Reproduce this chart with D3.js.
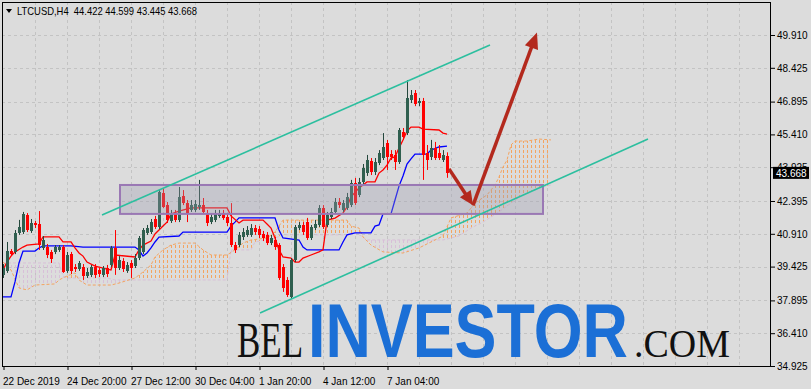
<!DOCTYPE html>
<html><head><meta charset="utf-8">
<script src="https://cdn.jsdelivr.net/npm/d3@7"></script>
<style>body{margin:0;background:#dcdcdc}svg{display:block}text{white-space:pre}</style>
</head><body><svg id="c" width="811" height="389"></svg>
<script>
// ---- data ----
const candles = [ // [open, high, low, close], H4 bars from 22 Dec 2019
[39.05,39.54,38.91,39.36],[39.23,40.54,39.14,40.13],[40.13,40.22,39.90,39.99],[40.09,41.08,39.99,40.95],
[40.95,41.54,40.86,41.22],[40.99,41.90,40.90,41.81],[41.76,41.85,40.99,41.08],[41.04,41.58,40.95,41.40],
[41.40,41.49,41.17,41.31],[41.35,41.94,40.18,40.40],[40.27,40.81,40.18,40.63],[40.31,40.45,39.81,39.95],
[40.09,40.18,39.59,39.77],[40.09,40.40,39.99,40.31],[40.18,40.40,40.09,40.31],[40.31,40.40,39.14,39.18],
[39.23,40.09,39.14,39.95],[39.99,40.09,39.09,39.23],[39.41,39.54,39.18,39.32],[39.32,39.68,39.23,39.59],
[39.41,39.54,38.82,39.00],[39.00,39.36,38.91,39.18],[39.05,39.50,38.95,39.41],[39.41,39.54,38.91,39.05],
[39.27,39.36,38.95,39.09],[39.05,39.45,38.95,39.36],[39.36,39.50,38.95,39.09],[39.50,40.36,39.41,40.27],
[40.27,41.08,39.05,39.36],[39.36,39.90,39.27,39.72],[39.68,39.81,39.18,39.32],[39.23,39.63,39.14,39.50],
[39.59,39.72,38.91,39.36],[39.45,39.99,39.36,39.81],[39.81,40.81,39.72,40.72],[40.09,41.17,39.99,41.08],
[40.95,41.31,40.86,41.17],[40.99,41.58,40.90,41.44],[41.58,41.72,41.13,41.22],[41.22,42.89,41.13,42.80],
[42.76,42.98,42.08,42.12],[42.21,42.35,41.40,41.54],[41.49,41.99,41.40,41.85],[41.85,41.99,41.44,41.54],
[41.54,43.03,41.44,42.57],[42.62,42.89,42.21,42.30],[42.30,42.44,41.44,41.85],[41.99,42.44,41.90,42.21],
[41.99,42.44,41.90,42.26],[42.12,43.35,41.99,42.21],[42.21,42.53,41.81,41.90],[41.85,41.99,41.26,41.40],
[41.44,41.81,41.35,41.67],[41.54,41.99,41.44,41.85],[41.72,41.99,41.63,41.85],[41.85,41.99,41.54,41.63],
[41.67,41.81,41.26,41.40],[41.40,42.30,40.31,40.40],[40.40,40.54,40.04,40.18],[40.40,40.99,40.31,40.86],
[40.77,41.17,40.63,40.99],[40.86,41.26,40.77,41.08],[40.86,41.35,40.77,41.17],[41.17,41.31,40.86,40.99],
[41.13,41.26,40.72,40.86],[40.90,41.04,40.58,40.72],[40.86,40.99,40.40,40.49],[40.49,40.86,40.40,40.72],
[40.63,40.77,40.18,40.31],[40.40,40.49,38.82,38.91],[39.41,39.54,38.28,38.46],[38.82,38.95,38.05,38.14],
[38.05,39.81,37.96,39.72],[39.72,41.31,39.63,41.22],[41.17,41.44,41.08,41.31],[41.31,41.44,40.86,40.99],
[41.44,41.63,40.63,40.72],[40.72,41.31,40.63,41.22],[41.17,41.54,41.08,41.35],[41.31,42.21,41.22,42.08],
[42.08,42.21,41.13,41.22],[41.31,41.90,41.22,41.76],[41.67,42.08,41.58,41.90],[41.90,42.53,41.81,42.35],
[42.35,42.53,42.08,42.21],[41.99,42.44,41.90,42.30],[42.08,42.76,41.99,42.57],[42.21,43.35,42.12,43.21],
[43.21,43.44,42.21,42.30],[42.67,43.44,42.57,43.25],[43.25,44.07,43.12,43.89],[43.66,44.48,43.53,44.25],
[44.20,44.34,43.57,43.71],[43.71,44.34,43.57,44.16],[44.12,44.70,44.02,44.57],[44.34,45.47,44.25,44.84],
[45.02,45.16,43.80,44.39],[44.52,44.70,44.25,44.39],[44.48,44.70,43.80,44.16],[44.16,45.70,44.07,45.61],
[45.52,45.70,45.16,45.29],[45.47,47.87,45.38,47.06],[46.97,47.42,46.83,47.19],[47.28,47.42,46.69,46.79],
[46.83,47.06,46.69,46.92],[46.92,47.06,43.35,44.48],[44.57,44.93,43.80,44.25],[44.39,45.16,44.25,44.79],
[44.79,45.07,44.25,44.34],[44.57,44.93,44.25,44.34],[44.25,44.70,44.16,44.48],[44.422,44.599,43.445,43.668]
];
// Ichimoku lines: [bar, price]
const tenkan = [[0,39.27],[1,39.63],[2,39.90],[3,40.09],[5,40.31],[6,40.40],[9,40.45],[10,40.77],[14,40.77],[15,40.54],[17,40.54],[18,40.27],[19,40.04],[20,39.90],[21,39.63],[23,39.45],[27,39.27],[28,39.95],[33,39.86],[34,40.18],[35,40.40],[37,40.58],[38,40.90],[40,41.26],[41,41.44],[42,41.81],[44,41.94],[47,42.08],[56,42.08],[57,41.72],[59,41.40],[60,41.53],[65,41.53],[66,41.35],[67,41.17],[68,40.72],[69,40.18],[70,39.86],[72,39.81],[73,39.63],[74,39.63],[75,39.81],[77,39.95],[79,40.09],[80,40.18],[81,41.53],[83,41.62],[85,41.85],[86,42.12],[87,42.58],[89,42.98],[91,43.26],[93,43.26],[94,43.66],[95,43.80],[96,44.02],[97,44.34],[98,44.39],[99,44.79],[100,45.16],[101,45.56],[102,45.74],[104,45.74],[105,45.65],[109,45.61],[110,45.47],[111,45.42]];
const kijun = [[0,38.05],[2,38.05],[3,38.73],[4,39.59],[5,40.13],[8,40.13],[9,40.27],[10,40.36],[17,40.36],[20,40.31],[33,40.31],[34,40.18],[35,39.90],[36,40.04],[37,40.27],[38,40.54],[39,40.76],[44,40.81],[45,40.99],[56,40.99],[57,41.26],[58,41.44],[59,41.63],[68,41.63],[69,41.08],[70,40.72],[74,40.63],[75,40.31],[76,40.18],[84,40.18],[85,40.54],[86,40.86],[88,40.95],[92,40.95],[93,41.26],[94,41.31],[95,41.81],[97,41.81],[98,42.44],[99,43.07],[100,43.53],[101,44.07],[102,44.30],[103,44.52],[106,44.52],[107,44.70],[109,44.84],[111,44.88]];
const spanA = [[0,39.63],[2,39.27],[4,38.46],[6,38.37],[8,38.59],[13,38.64],[14,38.82],[16,39.00],[18,39.14],[19,38.82],[21,38.59],[27,38.59],[29,38.68],[33,38.91],[35,39.18],[37,39.50],[38,39.86],[40,40.18],[42,40.40],[44,40.49],[48,40.49],[50,40.18],[52,39.95],[56,39.95],[58,40.18],[60,40.49],[62,40.63],[66,40.72],[68,40.99],[69,41.26],[70,41.53],[86,41.53],[87,41.26],[89,41.17],[90,40.77],[92,40.40],[95,40.09],[100,40.04],[104,40.27],[107,40.54],[110,40.81],[112,41.63],[116,41.85],[118,42.30],[121,42.67],[123,43.12],[124,43.48],[125,43.93],[126,44.25],[127,44.93],[128,45.11],[131,45.11],[134,45.20],[137,45.16]];
const spanB = [[0,39.59],[14,39.59],[15,39.00],[16,38.91],[26,38.91],[28,38.82],[56,38.82],[57,40.18],[62,40.18],[63,40.54],[68,40.72],[70,40.86],[87,40.86],[88,40.99],[91,40.63],[110,40.63],[114,40.81],[117,41.17],[120,41.44],[124,41.90],[127,42.30],[130,42.67],[134,42.98],[137,43.12]];
// price axis and time axis
const yTicks = [49.910,48.425,46.895,45.410,43.925,42.395,40.910,39.425,37.895,36.410,34.925];
const xTickBars = [0,16,32,48,64,80,96];
const xTickLabels = ['22 Dec 2019','24 Dec 20:00','27 Dec 12:00','30 Dec 04:00','1 Jan 20:00','4 Jan 12:00','7 Jan 04:00'];
const title = 'LTCUSD,H4  44.422 44.599 43.445 43.668';
const lastPrice = 43.668;
// drawn objects: [bar, price]
const upperChannel = [[24.75,41.76],[121.75,49.46]];
const lowerChannel = [[64.25,37.32],[161.25,45.20]];
const zoneBars = [29.25,135];
const zonePrices = [41.81,43.12];
const arrowDown = [[111.5,43.85],[117.5,42.20]];
const arrowUp = [[117.5,42.20],[133.5,50.02]];

// ---- drawing ----
const svg = d3.select('#c');
const PL=2, PT=2, PR=771, PB=366;
const x = d3.scaleLinear().domain([0,192]).range([3,771]);
const y = d3.scaleLinear().domain([34.925,49.910]).range([366,35]);
const defs = svg.append('defs');
defs.append('clipPath').attr('id','plot').append('rect').attr('x',PL).attr('y',PT).attr('width',PR-PL).attr('height',PB-PT);

svg.append('rect').attr('width',811).attr('height',389).attr('fill','#dcdcdc');
const g = svg.append('g').attr('clip-path','url(#plot)');

// grid
const gridC = '#c3c3c3';
g.selectAll('.hg').data(yTicks).join('line').attr('x1',PL).attr('x2',PR)
  .attr('y1',d=>Math.round(y(d))+0.5).attr('y2',d=>Math.round(y(d))+0.5)
  .attr('stroke',gridC).attr('stroke-dasharray','3,3');
g.selectAll('.vg').data(d3.range(8,192,8)).join('line')
  .attr('x1',d=>x(d)+0.5).attr('x2',d=>x(d)+0.5).attr('y1',PT).attr('y2',PB)
  .attr('stroke',gridC).attr('stroke-dasharray','3,3');

// cloud hatch patterns
function pat(id,col){
  defs.append('pattern').attr('id',id).attr('patternUnits','userSpaceOnUse').attr('width',4).attr('height',5)
    .append('line').attr('x1',3.5).attr('x2',3.5).attr('y1',0).attr('y2',3).attr('stroke',col).attr('stroke-width',1);
}
pat('hA','#f4a460'); pat('hB','#d8bfd8');
const pts = a=>a.map(d=>[x(d[0]),y(d[1])]);
const pA = pts(spanA), pB = pts(spanB);
const poly = 'M'+pA.map(p=>p.join(',')).join('L')+'L'+pB.slice().reverse().map(p=>p.join(',')).join('L')+'Z';
const bTop = 'M'+pB.map(p=>p.join(',')).join('L')+`L${pB[pB.length-1][0]},0L${pB[0][0]},0Z`;
const bBot = 'M'+pB.map(p=>p.join(',')).join('L')+`L${pB[pB.length-1][0]},400L${pB[0][0]},400Z`;
defs.append('clipPath').attr('id','abv').append('path').attr('d',bTop);
defs.append('clipPath').attr('id','blw').append('path').attr('d',bBot);
g.append('g').attr('clip-path','url(#abv)').append('path').attr('d',poly).attr('fill','url(#hA)');
g.append('g').attr('clip-path','url(#blw)').append('path').attr('d',poly).attr('fill','url(#hB)');
const line = d3.line().x(d=>x(d[0])).y(d=>y(d[1]));
g.append('path').attr('d',line(spanB)).attr('fill','none').attr('stroke','#d8bfd8').attr('stroke-dasharray','3,2');
g.append('path').attr('d',line(spanA)).attr('fill','none').attr('stroke','#f4a460').attr('stroke-dasharray','3,2');

// kijun / tenkan
g.append('path').attr('d',line(kijun)).attr('fill','none').attr('stroke','#0000ff').attr('stroke-width',1.3);
g.append('path').attr('d',line(tenkan)).attr('fill','none').attr('stroke','#ff0000').attr('stroke-width',1.3);

// candles
const bull='#2f5f4f', bullW='#24473c', bear='#ff0000';
const cg = g.append('g');
candles.forEach((c,i)=>{
  const [o,h,l,cl]=c; const up = cl>=o; const cx = x(i);
  cg.append('line').attr('x1',cx+0.5).attr('x2',cx+0.5).attr('y1',y(h)).attr('y2',y(l)).attr('stroke',up?bullW:bear);
  const y0=Math.round(y(Math.max(o,cl))), y1=Math.round(y(Math.min(o,cl)));
  cg.append('rect').attr('x',cx-1).attr('width',3).attr('y',y0).attr('height',Math.max(1,y1-y0)).attr('fill',up?bull:bear);
});

// zone box
g.append('rect').attr('x',x(zoneBars[0])).attr('width',x(zoneBars[1])-x(zoneBars[0]))
  .attr('y',y(zonePrices[1])).attr('height',y(zonePrices[0])-y(zonePrices[1]))
  .attr('fill','#9c9cb0').attr('fill-opacity',0.33).attr('stroke','#9a78b4').attr('stroke-width',2);

// channel lines
[upperChannel,lowerChannel].forEach(c=>g.append('path').attr('d',line(c)).attr('stroke','#2cbf9f').attr('stroke-width',1.6).attr('fill','none'));

// arrows
const arrC='#b3291d';
function arrow(a,hl,hw){
  const [x0,y0]=[x(a[0][0]),y(a[0][1])],[x1,y1]=[x(a[1][0]),y(a[1][1])];
  const dx=x1-x0, dy=y1-y0, len=Math.hypot(dx,dy), ux=dx/len, uy=dy/len;
  const bx=x1-ux*hl, by=y1-uy*hl;
  g.append('line').attr('x1',x0).attr('y1',y0).attr('x2',x1-ux*(hl-2)).attr('y2',y1-uy*(hl-2)).attr('stroke',arrC).attr('stroke-width',3.5);
  g.append('path').attr('d',`M${x1},${y1}L${bx-uy*hw/2},${by+ux*hw/2}L${bx+uy*hw/2},${by-ux*hw/2}Z`).attr('fill',arrC);
}
arrow(arrowDown,14,13);
arrow(arrowUp,16,14);

// frame
svg.append('rect').attr('x',PL+0.5).attr('y',PT+0.5).attr('width',PR-PL-1).attr('height',PB-PT).attr('fill','none').attr('stroke','#000');

// price axis
const ya = svg.append('g').attr('transform',`translate(${PR},0)`)
  .call(d3.axisRight(y).tickValues(yTicks).tickFormat(d3.format('.3f')).tickSize(4).tickPadding(2));
ya.select('.domain').remove();
ya.selectAll('text').attr('font-family','Liberation Sans, Arial, sans-serif').attr('font-size',10).attr('fill','#000');
ya.selectAll('line').attr('stroke','#000');
// last price label
svg.append('rect').attr('x',773).attr('y',y(lastPrice)-6).attr('width',36).attr('height',12).attr('fill','#000');
svg.append('text').attr('x',776).attr('y',y(lastPrice)+4).text(d3.format('.3f')(lastPrice))
  .attr('font-family','Liberation Sans, Arial, sans-serif').attr('font-size',10).attr('fill','#fff');

// time axis
const xa = svg.append('g').attr('transform',`translate(0.5,${PB})`)
  .call(d3.axisBottom(x).tickValues(xTickBars).tickFormat((d,i)=>xTickLabels[i]).tickSize(4).tickPadding(8));
xa.select('.domain').remove();
xa.selectAll('line').attr('stroke','#000');
xa.selectAll('text').attr('text-anchor','start').attr('x',-1).attr('font-family','Liberation Sans, Arial, sans-serif').attr('font-size',10).attr('fill','#000');

// fit a text to a width with a real transform (so its box is the drawn box)
function fitText(px, py, str, width, attrs){
  const t = svg.append('text').attr('x',0).attr('y',0).text(str);
  Object.entries(attrs).forEach(([k,v])=>t.attr(k,v));
  const w = t.node().getComputedTextLength();
  t.attr('transform',`translate(${px},${py}) scale(${width/w},1)`);
  return t;
}
// title
svg.append('path').attr('d','M6,9L12,9L9,13Z').attr('fill','#000');
fitText(17,15,title,180,{'font-family':'Liberation Sans, Arial, sans-serif','font-size':11,fill:'#000'});

// watermark
fitText(237,357,'BEL',66,{'font-family':'Liberation Serif, serif','font-size':50,fill:'#111'});
fitText(308,357,'INVESTOR',320,{'font-family':'Liberation Sans, Arial, sans-serif','font-weight':'bold','font-size':76,fill:'#1b6fd6'});
fitText(634,357,'.COM',96,{'font-family':'Liberation Serif, serif','font-size':40,fill:'#111'});
</script></body></html>
